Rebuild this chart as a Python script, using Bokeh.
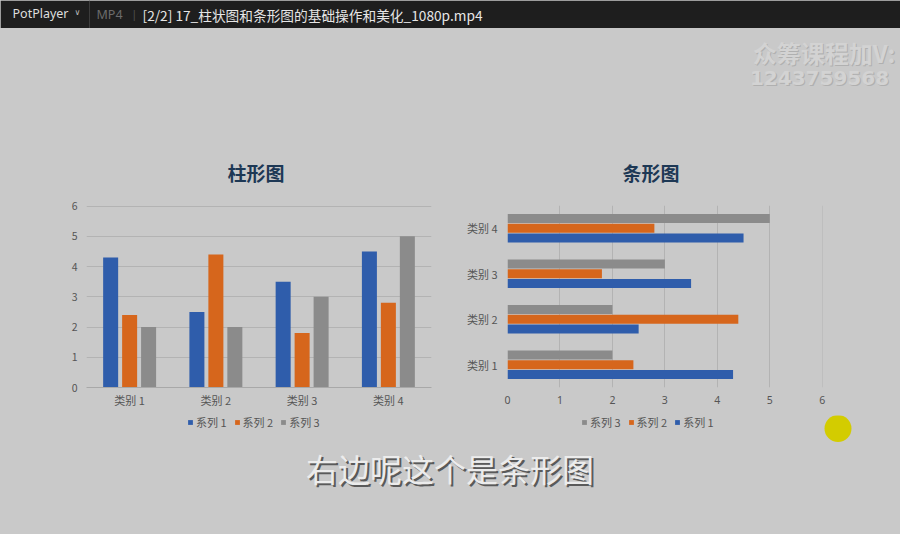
from bokeh.plotting import figure
from bokeh.models import (FactorRange, Range1d, Legend, LegendItem, BoxAnnotation,
                          ColumnDataSource, FixedTicker, Title)
from bokeh.transform import dodge
from bokeh.layouts import column, row
from bokeh.core.properties import value
from bokeh.embed import file_html
from bokeh.resources import INLINE

# ---------------- data ----------------
categories = ["类别 1", "类别 2", "类别 3", "类别 4"]
series_names = ["系列 1", "系列 2", "系列 3"]
series1 = [4.3, 2.5, 3.5, 4.5]
series2 = [2.4, 4.4, 1.8, 2.8]
series3 = [2.0, 2.0, 3.0, 5.0]
value_ticks = [0, 1, 2, 3, 4, 5, 6]
title_left = "柱形图"
title_right = "条形图"
window_title = "[2/2] 17_柱状图和条形图的基础操作和美化_1080p.mp4"
subtitle = "右边呢这个是条形图"
watermark = ["众筹课程加V:", "1243759568"]

# ---------------- style ----------------
BG = "#c9c9c9"
BAR = "#1e1e1e"
BLUE = "#2f5dab"
ORANGE = "#d6661c"
GRAY = "#8b8b8b"
GRID = "#b3b3b3"
TITLE_C = "#1d3855"
TICK_C = "#555555"
FONT = "Noto Sans CJK SC"
COLORS = [BLUE, ORANGE, GRAY]

src = ColumnDataSource(dict(cat=categories, s1=series1, s2=series2, s3=series3))


def plain_fig(w, h, y0, y1):
    f = figure(width=w, height=h, x_range=Range1d(0, w), y_range=Range1d(y1, y0),
               output_backend="svg", toolbar_location=None, min_border=0,
               background_fill_color=BG, border_fill_color=BG, outline_line_color=None)
    f.axis.visible = False
    f.grid.visible = False
    return f


# ---------------- top: player bar + watermark ----------------
p0 = plain_fig(900, 100, 0, 100)
p0.add_layout(BoxAnnotation(left=0, right=900, top=0, bottom=27.5, fill_color=BAR, fill_alpha=1,
                            line_color=None, level="underlay"))
p0.text(x=[12], y=[13], text=["PotPlayer"], text_font=value("Noto Sans"), text_font_size="12.5px",
        text_color="#dedede", text_baseline="middle")
p0.text(x=[74], y=[12], text=["∨"], text_font=value("DejaVu Sans"), text_font_size="8px",
        text_color="#bdbdbd", text_baseline="middle")
p0.segment(x0=[89], y0=[0], x1=[89], y1=[27.5], line_color="#3c3c3c", line_width=1)
p0.text(x=[96], y=[14], text=["MP4"], text_font=value("Noto Sans"), text_font_size="12.5px",
        text_color="#6c6c6c", text_baseline="middle")
p0.text(x=[131], y=[13], text=["|"], text_font=value("Noto Sans"), text_font_size="10px",
        text_color="#555555", text_baseline="middle")
p0.text(x=[142], y=[14], text=[window_title], text_font=value(FONT), text_font_size="13.7px",
        text_color="#e6e6e6", text_baseline="middle")
for dx, col in ((1.2, "#b0b0b0"), (0, "#d3d3d3")):
    p0.text(x=[823.5 + dx], y=[52 + dx], text=[watermark[0]], text_font=value(FONT),
            text_font_size="24px", text_font_style="bold", text_color=col,
            text_align="center", text_baseline="middle")
    p0.text(x=[819 + dx], y=[77 + dx], text=[watermark[1]], text_font=value("DejaVu Sans"),
            text_font_size="20px", text_font_style="bold", text_color=col,
            text_align="center", text_baseline="middle")


def base_fig(title, offset, **kw):
    f = figure(width=450, height=315, output_backend="svg", toolbar_location=None,
               background_fill_color=BG, border_fill_color=BG, outline_line_color=None, **kw)
    f.title = Title(text=title, align="left", offset=offset, standoff=39, text_font=FONT,
                    text_font_size="19px", text_font_style="bold", text_color=TITLE_C)
    f.axis.major_tick_line_color = None
    f.axis.minor_tick_line_color = None
    f.axis.major_tick_out = 0
    f.axis.major_tick_in = 0
    f.axis.minor_tick_out = 0
    f.axis.major_label_text_font = FONT
    f.axis.major_label_text_color = TICK_C
    return f


# ---------------- left: column chart ----------------
p1 = base_fig(title_left, 141, x_range=FactorRange(factors=categories, range_padding=0),
              y_range=Range1d(0, 6.02),
              min_border_left=86, min_border_right=19, min_border_top=105, min_border_bottom=28)
off = [-0.22, 0.0, 0.22]
for i, key in enumerate(["s1", "s2", "s3"]):
    p1.vbar(x=dodge("cat", off[i], range=p1.x_range), top=key, width=0.174, source=src,
            fill_color=COLORS[i], line_color=None)
p1.xgrid.grid_line_color = None
p1.ygrid.grid_line_color = GRID
p1.yaxis.ticker = FixedTicker(ticks=value_ticks)
p1.yaxis.axis_line_color = None
p1.yaxis.major_label_standoff = 9
p1.yaxis.major_label_text_font_size = "10.5px"
p1.xaxis.axis_line_color = "#a8a8a8"
p1.xaxis.major_label_standoff = 4
p1.xaxis.major_label_text_font_size = "11px"

# ---------------- right: bar chart ----------------
p2 = base_fig(title_right, 115, y_range=FactorRange(factors=categories, range_padding=0),
              x_range=Range1d(0, 6.005),
              min_border_left=57, min_border_right=78, min_border_top=105, min_border_bottom=24)
hoff = [-0.214, 0.0, 0.214]
for i, key in enumerate(["s1", "s2", "s3"]):
    p2.hbar(y=dodge("cat", hoff[i], range=p2.y_range), right=key, height=0.2, source=src,
            fill_color=COLORS[i], line_color=None)
p2.ygrid.grid_line_color = None
p2.xgrid.grid_line_color = GRID
p2.xaxis.ticker = FixedTicker(ticks=value_ticks)
p2.axis.axis_line_color = None
p2.yaxis.major_label_standoff = 10
p2.yaxis.major_label_text_font_size = "11px"
p2.xaxis.major_label_text_font = "Noto Sans"
p2.xaxis.major_label_standoff = 8
p2.xaxis.major_label_text_font_size = "10.5px"

# ---------------- bottom: legends, cursor, subtitle ----------------
p3 = plain_fig(900, 119, 415, 534)
# legend swatches (single point each, placed far outside the visible range)
swatches = [p3.vbar(x=[-1000], top=[2000], bottom=[2010], width=1, fill_color=c, line_color=None)
            for c in COLORS]


def make_legend(order, loc):
    return Legend(items=[LegendItem(label=series_names[i], renderers=[swatches[i]]) for i in order],
                  location=loc, orientation="horizontal",
                  background_fill_alpha=0, border_line_color=None, padding=0, margin=0,
                  glyph_width=6, glyph_height=6, label_standoff=3, spacing=7, label_height=12,
                  label_text_font=FONT, label_text_font_size="11px", label_text_color=TICK_C)


p3.add_layout(make_legend([0, 1, 2], (187, 104)))
p3.add_layout(make_legend([2, 1, 0], (581, 104)))
p3.circle(x=[837.5], y=[428], radius=13.5, fill_color="#d3cc00", line_color=None)
p3.text(x=[451.5], y=[469.5], text=[subtitle], text_font=value(FONT), text_font_size="32px",
        text_color="#5a5a5a", text_align="center", text_baseline="middle")
p3.text(x=[449.5], y=[467.5], text=[subtitle], text_font=value(FONT), text_font_size="32px",
        text_color="#ececec", text_align="center", text_baseline="middle")

charts = row(p1, p2, styles={"background-color": BG})
layout = column(p0, charts, p3, styles={"background-color": BG})
open("out.html", "w").write(file_html(layout, INLINE))
